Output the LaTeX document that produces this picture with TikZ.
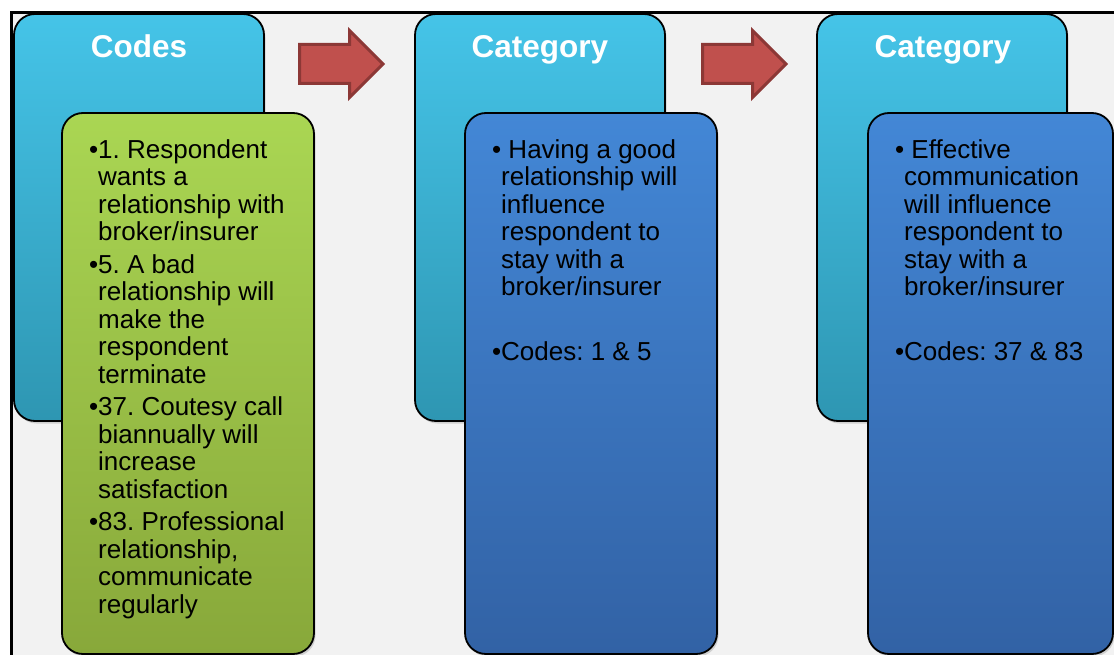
\documentclass[tikz,border=0pt]{standalone}
\usepackage{fontspec}
\setmainfont{Liberation Sans}
\usetikzlibrary{shadows}
\definecolor{bg}{HTML}{F2F2F2}
\definecolor{cyanT}{HTML}{45C4E8}
\definecolor{cyanM}{HTML}{3CBCE0}
\definecolor{cyanB}{HTML}{2E96B2}
\definecolor{greenT}{HTML}{AAD653}
\definecolor{greenB}{HTML}{88A83A}
\definecolor{blueT}{HTML}{4387D6}
\definecolor{blueB}{HTML}{3262A5}
\definecolor{arrowF}{HTML}{C0504D}
\definecolor{arrowD}{HTML}{8C3836}
\newcommand{\bul}{\leavevmode\llap{•}}
\begin{document}
\begin{tikzpicture}[x=1pt,y=-1pt,
  box/.style={draw=black, line width=1.8pt, rounded corners=21pt, inner sep=0pt,
    drop shadow={opacity=0.3, shadow xshift=1.5pt, shadow yshift=-2.5pt}},
  cyanbox/.style={box, top color=cyanT, middle color=cyanM, bottom color=cyanB, minimum width=250pt, minimum height=407pt},
  greenbox/.style={box, top color=greenT, bottom color=greenB, minimum width=252pt, minimum height=541pt},
  bluebox/.style={box, top color=blueT, bottom color=blueB, minimum width=252pt, minimum height=541pt},
  title/.style={text=white, font=\fontsize{31.5}{36}\selectfont\bfseries, anchor=base, inner sep=0pt},
  txt/.style={anchor=base west, inner sep=0pt, text=black, font=\fontsize{26}{27.5}\selectfont\frenchspacing},
  blockarrow/.style={fill=arrowF, draw=arrowD, line width=3pt, line join=miter}
]
\useasboundingbox (0,0) rectangle (1114,655);
\fill[white] (0,0) rectangle (1114,655);
\fill[bg] (11,12) rectangle (1114,655);
\draw[line width=2.6pt] (11.3,655) -- (11.3,12.5) -- (1114,12.5);

% column 1
\node[cyanbox] (c1) at (139,217.5) {};
\node[title] (t1) at (139,58) {Codes};
\node[greenbox] (g1) at (188,383.5) {};
\node[txt] (x1) at (98,158.5) {\parbox[t]{215pt}{\raggedright\frenchspacing
\bul 1. Respondent\\wants a\\relationship with\\broker/insurer\\[5pt]
\bul 5. A bad\\relationship will\\make the\\respondent\\terminate\\[5pt]
\bul 37. Coutesy call\\biannually will\\increase\\satisfaction\\[5pt]
\bul 83. Professional\\relationship,\\communicate\\regularly}};

% arrow 1
\path[blockarrow] (299.5,44.5) -- (349.5,44.5) -- (349.5,30.5) -- (383,64) -- (349.5,97.5) -- (349.5,83.5) -- (299.5,83.5) -- cycle;

% column 2
\node[cyanbox] (c2) at (540,217.5) {};
\node[title] (t2) at (540,58) {Category};
\node[bluebox] (b2) at (591,383.5) {};
\node[txt] (x2) at (501,158.5) {\parbox[t]{215pt}{\raggedright\frenchspacing
\bul\hspace*{0.28em}Having a good\\relationship will\\influence\\respondent to\\stay with a\\broker/insurer\\[37.5pt]
\bul Codes: 1 \& 5}};

% arrow 2
\path[blockarrow] (702.5,44.5) -- (752.5,44.5) -- (752.5,30.5) -- (786,64) -- (752.5,97.5) -- (752.5,83.5) -- (702.5,83.5) -- cycle;

% column 3
\node[cyanbox] (c3) at (942,217.5) {};
\node[title] (t3) at (943,58) {Category};
\node[bluebox, minimum width=245pt] (b3) at (990.5,383.5) {};
\node[txt] (x3) at (904,158.5) {\parbox[t]{215pt}{\raggedright\frenchspacing
\bul\hspace*{0.28em}Effective\\communication\\will influence\\respondent to\\stay with a\\broker/insurer\\[37.5pt]
\bul Codes: 37 \& 83}};
\end{tikzpicture}
\end{document}
